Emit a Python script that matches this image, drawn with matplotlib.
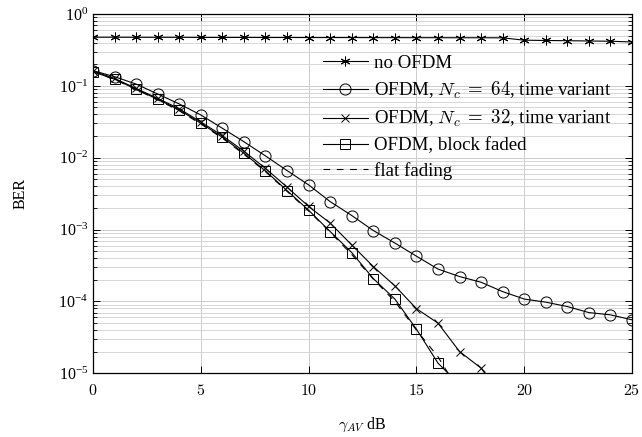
import numpy as np
import matplotlib
matplotlib.use("Agg")
import matplotlib.pyplot as plt
from matplotlib.ticker import LogLocator, NullFormatter, FixedLocator

plt.rcParams['mathtext.fontset'] = 'cm'
plt.rcParams['font.family'] = ['Liberation Serif', 'DejaVu Serif']

# SNR axis (dB)
snr = np.arange(0, 26)

# no OFDM
ber_no_ofdm = [0.475, 0.475, 0.474, 0.474, 0.474, 0.472, 0.472, 0.472, 0.471, 0.471,
               0.470, 0.470, 0.470, 0.469, 0.469, 0.468, 0.468, 0.467, 0.467, 0.466,
               0.432, 0.428, 0.425, 0.421, 0.418, 0.408]

# OFDM, Nc = 64, time variant
ber_nc64 = [0.163, 0.134, 0.106, 0.077, 0.056, 0.0394, 0.0257, 0.0167, 0.0106, 0.00662,
            0.00419, 0.00245, 0.00157, 0.00097, 0.00065, 0.000427, 0.000282, 0.000222,
            0.000185, 0.000137, 0.000108, 0.0000977, 0.0000849, 0.000070, 0.0000651,
            0.0000555]

# OFDM, Nc = 32, time variant
snr_nc32 = np.arange(0, 20)
ber_nc32 = [0.160, 0.127, 0.092, 0.067, 0.048, 0.0315, 0.0203, 0.0123, 0.0071, 0.0039,
            0.0021, 0.00123, 0.000612, 0.000306, 0.000165, 0.0000794, 0.0000499,
            0.0000201, 0.0000118, 0.0000046]

# OFDM, block faded
snr_block = np.arange(0, 18)
ber_block = [0.157, 0.124, 0.0897, 0.0651, 0.0462, 0.0302, 0.0193, 0.01155, 0.00655,
             0.00349, 0.00186, 0.00094, 0.000479, 0.000208, 0.000108, 0.0000412,
             0.0000139, 0.0000069]

# flat fading (theory)
snr_flat = np.arange(0, 18)
ber_flat = [0.157, 0.123, 0.089, 0.064, 0.045, 0.0295, 0.0187, 0.0112, 0.0064, 0.0034,
            0.00182, 0.00092, 0.00045, 0.000205, 0.000100, 0.000040, 0.000017, 0.0000055]

fig = plt.figure(figsize=(6.42, 4.37), dpi=100)
ax = fig.add_axes([93 / 642, 1 - 373.3 / 437, 539 / 642, 359.3 / 437])

lw = 0.8
ax.plot(snr, ber_no_ofdm, color='black', lw=lw, marker=(6, 2, 0), ms=7, mew=0.7,
        label='no OFDM')
ax.plot(snr, ber_nc64, color='black', lw=lw, marker='o', ms=8, mfc='none', mew=0.7,
        label=r'OFDM, $N_c \;=\; 64$, time variant')
ax.plot(snr_nc32, ber_nc32, color='black', lw=lw, marker='x', ms=6, mew=0.7,
        label=r'OFDM, $N_c \;=\; 32$, time variant')
ax.plot(snr_block, ber_block, color='black', lw=lw, marker='s', ms=7.5, mfc='none', mew=0.7,
        label='OFDM, block faded')
ax.plot(snr_flat, ber_flat, color='black', lw=lw, ls=(0, (6, 6)),
        label='flat fading')

ax.set_yscale('log')
ax.set_xlim(0, 25)
ax.set_ylim(1e-5, 1)

ax.xaxis.set_major_locator(FixedLocator([0, 5, 10, 15, 20, 25]))
ax.yaxis.set_major_locator(LogLocator(base=10, numticks=10))
ax.yaxis.set_minor_locator(LogLocator(base=10, subs=np.arange(2, 10), numticks=20))
ax.yaxis.set_minor_formatter(NullFormatter())

ax.grid(True, which='major', color='#cccccc', lw=0.7)
ax.grid(True, which='minor', axis='y', color='#d0d0d0', lw=0.6)
ax.set_axisbelow(True)

ax.tick_params(which='both', direction='in', top=True, right=True, colors='black',
               labelsize=11.5)
ax.tick_params(which='major', length=5, width=0.7)
ax.tick_params(which='minor', length=3, width=0.6)
ax.set_xticklabels([r'$%d$' % v for v in [0, 5, 10, 15, 20, 25]])
ax.tick_params(axis='x', pad=7)

for sp in ax.spines.values():
    sp.set_linewidth(0.9)

ax.set_xlabel(r'$\gamma_{AV}$ dB', fontsize=11.5, labelpad=12)
ax.set_ylabel('BER', fontsize=11.5, labelpad=21)

leg = ax.legend(loc='upper left', bbox_to_anchor=((322.7 - 93) / 539, 0.887),
                frameon=False, fontsize=13.6, handlelength=2.4, handletextpad=0.3,
                labelspacing=0.4, borderpad=0, borderaxespad=0)

fig.savefig('out.png', dpi=100)
